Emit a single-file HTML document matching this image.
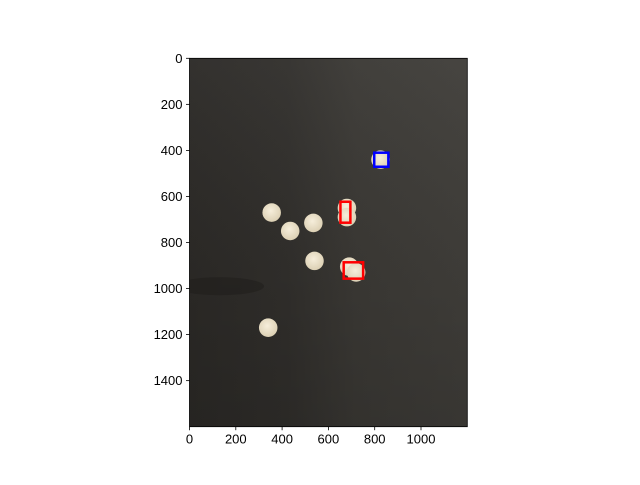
<!DOCTYPE html>
<html><head><meta charset="utf-8"><style>
body{margin:0;background:#fff;font-family:"Liberation Sans",sans-serif}
svg text{font-family:"Liberation Sans",sans-serif;font-size:13px;fill:#000}
</style></head><body>
<svg id="c" width="640" height="480">
<defs>
<linearGradient id="bg" x1="0" y1="0" x2="1" y2="0">
<stop offset="0" stop-color="#2b2926"/><stop offset="0.35" stop-color="#302e2b"/>
<stop offset="0.6" stop-color="#3a3834"/><stop offset="1" stop-color="#3f3d39"/>
</linearGradient>
<linearGradient id="bgv" x1="0" y1="0" x2="0" y2="1">
<stop offset="0" stop-color="#fff" stop-opacity="0.04"/><stop offset="0.6" stop-color="#000" stop-opacity="0.03"/><stop offset="1" stop-color="#000" stop-opacity="0.12"/>
</linearGradient>
<radialGradient id="ball" cx="0.45" cy="0.4" r="0.6">
<stop offset="0" stop-color="#f6eedb"/><stop offset="1" stop-color="#dcd0b4"/>
</radialGradient>
<clipPath id="clip"><rect x="189.5" y="58.3" width="277.8" height="368.4"/></clipPath>
</defs>
<g id="plot"></g>
</svg>
<script>
const balls=[[355,670],[435,750],[535,715],[540,880],[340,1170],[825,440],[680,650],[680,690],[690,905],[720,930]];
const boxes=[[798,410,859,471,'#0000ff','blue-box'],[652,623,695,714,'#ff0000','red-box-1'],[666,886,750,957,'#ff0000','red-box-2']];
const xTicks=[0,200,400,600,800,1000];
const yTicks=[0,200,400,600,800,1000,1200,1400];
const X0=189.5,X1=467.3,Y0=58.3,Y1=426.7,W=1200,H=1600;
const sx=v=>X0+(v/W)*(X1-X0), sy=v=>Y0+(v/H)*(Y1-Y0);
const g=document.getElementById('plot');const NS='http://www.w3.org/2000/svg';
function mk(t,a){const e=document.createElementNS(NS,t);for(const k in a)e.setAttribute(k,a[k]);g.appendChild(e);return e;}
let e=mk('rect',{x:X0,y:Y0,width:X1-X0,height:Y1-Y0,fill:'url(#bg)'});


e=mk('rect',{x:X0,y:Y0,width:X1-X0,height:Y1-Y0,fill:'url(#bgv)'});


e=mk('ellipse',{cx:sx(130),cy:sy(990),rx:(X1-X0)*0.16,ry:9,fill:'#1c1a18',opacity:0.45,'clip-path':'url(#clip)'});


balls.forEach((b,i)=>{e=mk('circle',{cx:sx(b[0]),cy:sy(b[1]),r:sx(40)-sx(0),fill:'url(#ball)'});

});
boxes.forEach(b=>{e=mk('rect',{x:sx(b[0]),y:sy(b[1]),width:sx(b[2])-sx(b[0]),height:sy(b[3])-sy(b[1]),fill:'none',stroke:b[4],'stroke-width':2.5});

});
e=mk('rect',{x:X0,y:Y0,width:X1-X0,height:Y1-Y0,fill:'none',stroke:'#000','stroke-width':0.8});


xTicks.forEach(t=>{const x=sx(t);mk('line',{x1:x,x2:x,y1:Y1,y2:Y1+3.5,stroke:'#000','stroke-width':0.8});
e=mk('text',{x:x,y:Y1+17,'text-anchor':'middle'});e.textContent=t;

});
yTicks.forEach(t=>{const y=sy(t);mk('line',{x1:X0-3.5,x2:X0,y1:y,y2:y,stroke:'#000','stroke-width':0.8});
e=mk('text',{x:X0-7,y:y+4.5,'text-anchor':'end'});e.textContent=t;

});
</script>
</body></html>
